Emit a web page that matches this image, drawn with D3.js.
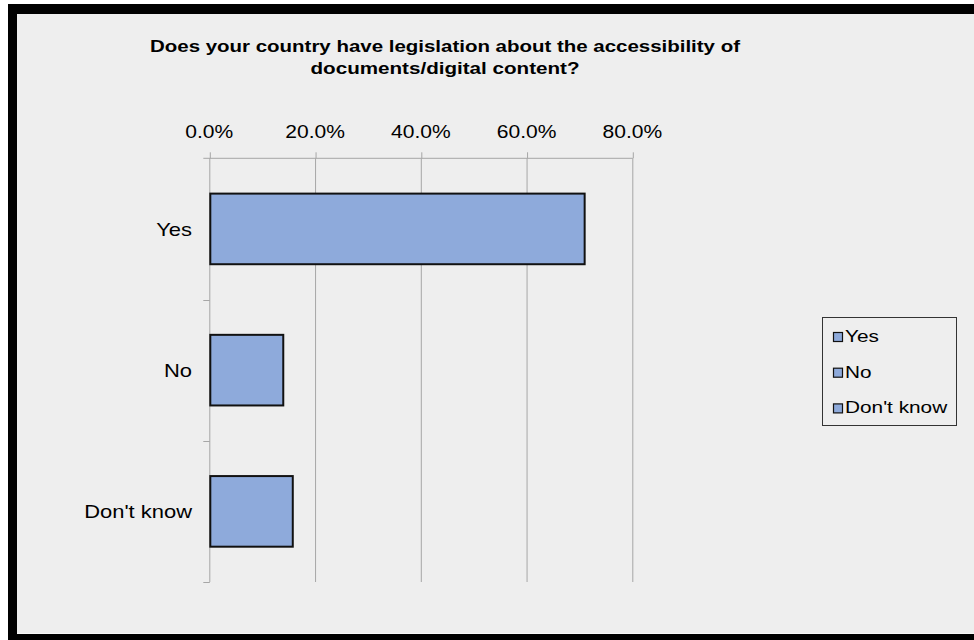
<!DOCTYPE html>
<html>
<head>
<meta charset="utf-8">
<script src="https://cdn.jsdelivr.net/npm/d3@7"></script>
<style>
  html, body { margin: 0; padding: 0; background: #ffffff; }
  svg { display: block; }
  text { font-family: "Liberation Sans", Arial, sans-serif; fill: #000; }
</style>
</head>
<body>
<div id="chart"></div>
<script>
// Survey answers (share of respondents, %)
const categories = ["Yes", "No", "Don't know"];
const shares = [70.8, 13.8, 15.6];
const xTicks = [0, 20, 40, 60, 80];
const titleLines = [
  "Does your country have legislation about the accessibility of",
  "documents/digital content?"
];

const W = 974, H = 640;
const barFill = "#8eaadb";
const gridColor = "#a6a6a6";
const bg = "#eeeeee";

const svg = d3.select("#chart").append("svg")
  .attr("width", W).attr("height", H);

// frame: white page, thick black border, light grey chart area
svg.append("rect").attr("x", 0).attr("y", 0).attr("width", W).attr("height", H).attr("fill", "#fff");
svg.append("rect").attr("x", 8).attr("y", 4).attr("width", W).attr("height", H).attr("fill", "#000");
svg.append("rect").attr("x", 17).attr("y", 14).attr("width", W - 17).attr("height", 620).attr("fill", bg);
svg.append("line").attr("x1", 17).attr("x2", W).attr("y1", 633.5).attr("y2", 633.5)
  .attr("stroke", "#f8f8f8").attr("stroke-width", 1);

// plot area
const plot = { left: 209.3, right: 632.3, top: 158.3, bottom: 582 };

const x = d3.scaleLinear().domain([0, 80]).range([plot.left, plot.right]);
const y = d3.scaleBand().domain(categories).range([plot.top, plot.bottom])
  .paddingInner(0.5).paddingOuter(0.25);

// horizontally stretched text helper
function stretchedText(g, str, px, py, anchor, size, weight, sx) {
  return g.append("text")
    .attr("transform", `translate(${px},${py}) scale(${sx},1)`)
    .attr("text-anchor", anchor)
    .attr("font-size", size)
    .attr("font-weight", weight)
    .text(str);
}

// title
const titleG = svg.append("g");
const titleWidths = [590, 269];
titleLines.forEach((t, i) => {
  titleG.append("text")
    .attr("x", 445).attr("y", 52 + i * 22)
    .attr("text-anchor", "middle")
    .attr("font-size", 16)
    .attr("font-weight", "bold")
    .attr("textLength", titleWidths[i])
    .attr("lengthAdjust", "spacingAndGlyphs")
    .text(t);
});

// vertical gridlines
svg.append("g").selectAll("line").data(xTicks.slice(1)).join("line")
  .attr("x1", d => x(d) + 0.5).attr("x2", d => x(d) + 0.5)
  .attr("y1", plot.top).attr("y2", plot.bottom)
  .attr("stroke", gridColor).attr("stroke-width", 1);

// top value axis
const xAxis = svg.append("g")
  .attr("transform", `translate(0.5,${plot.top})`)
  .call(d3.axisTop(x).tickValues(xTicks).tickSize(6).tickSizeOuter(0).tickFormat(() => ""));
xAxis.select(".domain").attr("stroke", gridColor)
  .attr("d", `M${plot.left - 6.5},0H${plot.right}`);
xAxis.selectAll(".tick line").attr("stroke", gridColor);

const tickLabelG = svg.append("g");
xTicks.forEach(t => {
  stretchedText(tickLabelG, d3.format(".1%")(t / 100), x(t), 138, "middle", 18, "normal", 1.17);
});

// left category axis
const yAxisG = svg.append("g");
yAxisG.append("line")
  .attr("x1", plot.left + 0.5).attr("x2", plot.left + 0.5)
  .attr("y1", plot.top).attr("y2", plot.bottom)
  .attr("stroke", gridColor);
const bounds = categories.map(c => y(c) - y.step() * 0.25).concat([plot.bottom]);
yAxisG.selectAll("line.tk").data(bounds.slice(1)).join("line")
  .attr("class", "tk")
  .attr("x1", plot.left - 6).attr("x2", plot.left + 0.5)
  .attr("y1", d => Math.round(d) + 0.5).attr("y2", d => Math.round(d) + 0.5)
  .attr("stroke", gridColor);

categories.forEach(c => {
  stretchedText(yAxisG, c, 192, y(c) + y.bandwidth() / 2 + 7, "end", 18, "normal", 1.22);
});

// bars
svg.append("g").selectAll("rect").data(categories).join("rect")
  .attr("x", x(0) + 1)
  .attr("y", c => y(c))
  .attr("width", (c, i) => x(shares[i]) - x(0))
  .attr("height", y.bandwidth())
  .attr("fill", barFill)
  .attr("stroke", "#111")
  .attr("stroke-width", 2);

// legend
const legend = svg.append("g");
legend.append("rect")
  .attr("x", 822.5).attr("y", 317.5).attr("width", 134).attr("height", 108)
  .attr("fill", bg).attr("stroke", "#333").attr("stroke-width", 1);
categories.forEach((c, i) => {
  const by = 342 + i * 35.7;
  legend.append("rect")
    .attr("x", 833.5).attr("y", by - 9.5).attr("width", 9).attr("height", 9)
    .attr("fill", barFill).attr("stroke", "#111").attr("stroke-width", 1.2);
  stretchedText(legend, c, 845, by, "start", 16, "normal", 1.3);
});
</script>
</body>
</html>
